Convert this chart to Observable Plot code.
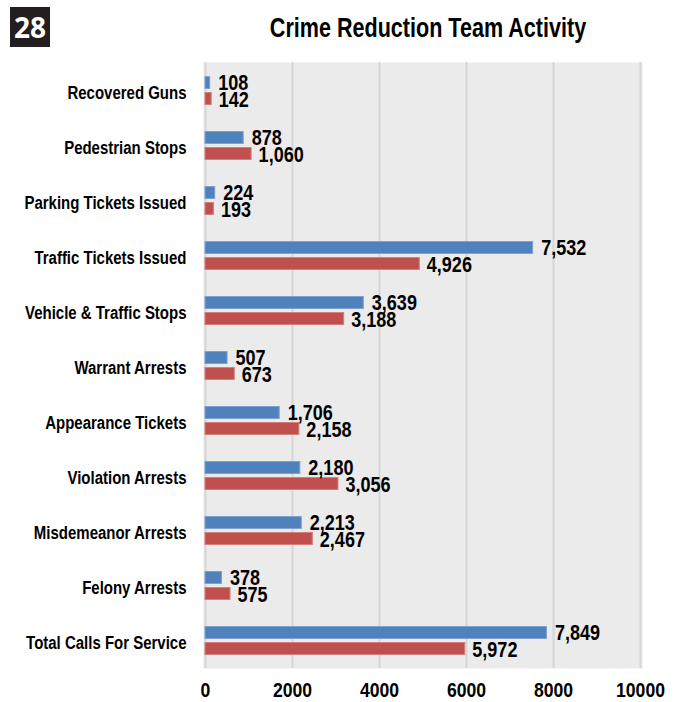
<!DOCTYPE html>
<html>
<head>
<meta charset="utf-8">
<script src="https://cdn.jsdelivr.net/npm/d3@7"></script>
<script src="https://cdn.jsdelivr.net/npm/@observablehq/plot@0.6"></script>
<style>
  html, body { margin: 0; padding: 0; background: #fff; }
  body { width: 676px; height: 702px; position: relative; overflow: hidden;
         font-family: "Liberation Sans", Arial, sans-serif; font-weight: bold; }
  #badge { position: absolute; left: 10px; top: 7px; width: 40px; height: 40px; background: #231f20;
           color: #fff; font-size: 28px; line-height: 40px; text-align: center; font-family: "Open Sans", "DejaVu Sans", sans-serif; font-weight: 700; }
  #title { position: absolute; left: 203px; width: 450px; top: 12px; text-align: center; font-size: 28px; line-height: 32px; color: #000;
           transform: scaleX(0.77); transform-origin: 225px 0; white-space: nowrap; }
  #chart { position: absolute; left: 0; top: 50px; }
</style>
</head>
<body>
<div id="badge">28</div>
<div id="title">Crime Reduction Team Activity</div>
<div id="chart"></div>
<script>
const categories = ["Recovered Guns", "Pedestrian Stops", "Parking Tickets Issued", "Traffic Tickets Issued",
  "Vehicle & Traffic Stops", "Warrant Arrests", "Appearance Tickets", "Violation Arrests",
  "Misdemeanor Arrests", "Felony Arrests", "Total Calls For Service"];
const blueValues = [108, 878, 224, 7532, 3639, 507, 1706, 2180, 2213, 378, 7849];
const redValues  = [142, 1060, 193, 4926, 3188, 673, 2158, 3056, 2467, 575, 5972];
const xTicks = [0, 2000, 4000, 6000, 8000, 10000];

const blue = categories.map((c, i) => ({category: c, value: blueValues[i]}));
const red  = categories.map((c, i) => ({category: c, value: redValues[i]}));
const fmt = d3.format(",");
const font = '"Liberation Sans", Arial, sans-serif';

const chart = Plot.plot({
  width: 676,
  height: 652,
  marginLeft: 203,
  marginRight: 34,
  marginTop: 12,
  marginBottom: 34,
  insetLeft: 2,
  insetRight: 2,
  style: {fontFamily: font, fontWeight: "bold", fontSize: "18px", color: "#000", background: "transparent"},
  x: {domain: [0, 10000], ticks: xTicks, tickFormat: d => String(d), label: null},
  y: {domain: categories, padding: 0, label: null},
  marks: [
    Plot.frame({fill: "#ebebeb", stroke: null}),
    Plot.gridX(xTicks, {stroke: "#d6d6d6", strokeOpacity: 1, strokeWidth: 2}),
    Plot.barX(blue, {x: "value", y: "category", fill: "#4f81bd", stroke: "#7ea1cf", strokeWidth: 1, insetTop: 13.5, insetBottom: 29.5}),
    Plot.barX(red, {x: "value", y: "category", fill: "#c0504d", stroke: "#d27f7d", strokeWidth: 1, insetTop: 29.5, insetBottom: 13.5}),
    Plot.text(blue, {x: "value", y: "category", text: d => fmt(d.value), textAnchor: "start", dx: 8, dy: -8, fontSize: 22, fontWeight: "bold", fill: "#000"}),
    Plot.text(red, {x: "value", y: "category", text: d => fmt(d.value), textAnchor: "start", dx: 7, dy: 9, fontSize: 22, fontWeight: "bold", fill: "#000"}),
    Plot.axisX({ticks: xTicks, tickFormat: d => String(d), tickSize: 0, tickPadding: 14, fontSize: 20, label: null}),
    Plot.axisY({tickSize: 0, tickPadding: 17, label: null, fontSize: 18.5, dy: 2})
  ]
});
document.getElementById("chart").appendChild(chart);

// condense glyphs horizontally to mimic the narrow bold face of the original
function condense(selector, s) {
  chart.querySelectorAll(selector).forEach(g => {
    g.querySelectorAll("text").forEach(t => {
      const b = t.getBBox();
      const anchor = getComputedStyle(t).textAnchor;
      const ax = anchor === "end" ? b.x + b.width : anchor === "middle" ? b.x + b.width / 2 : b.x;
      const prev = t.getAttribute("transform") || "";
      t.setAttribute("transform", `${prev} translate(${ax},0) scale(${s},1) translate(${-ax},0)`.trim());
    });
  });
}
condense('g[aria-label="y-axis tick label"]', 0.81);
condense('g[aria-label="x-axis tick label"]', 0.88);
condense('g[aria-label="text"]', 0.82);
</script>
</body>
</html>
